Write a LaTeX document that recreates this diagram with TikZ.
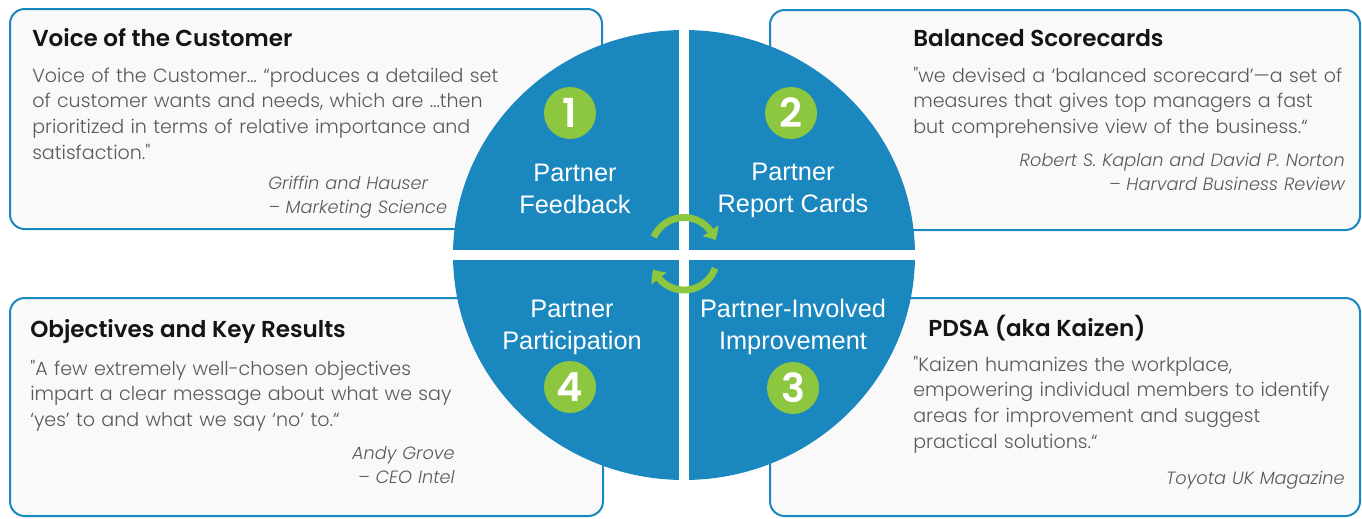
\documentclass[tikz,border=0pt]{standalone}
\usepackage{fontspec}
\usepackage{tikz}
\usetikzlibrary{arrows.meta, bending}
\newfontfamily\headfont{Poppins SemiBold}
\newfontfamily\quotefont{Poppins Light}[ItalicFont={Poppins Light Italic}]
\newfontfamily\stagefont{Liberation Sans}
\definecolor{ringblue}{HTML}{1A88BE}
\definecolor{leafgreen}{HTML}{8DC63F}
\definecolor{panelfill}{HTML}{F9F9F9}
\definecolor{titleink}{HTML}{141414}
\definecolor{quoteink}{HTML}{5A5A5A}

\begin{document}
\begin{tikzpicture}[x=0.75pt, y=-0.75pt,
        panel/.style={draw=ringblue, line width=1.5pt, fill=panelfill, rounded corners=11pt},
        headline/.style={anchor=base west, inner sep=0pt, text=titleink, font=\headfont\fontsize{17.3}{20}\selectfont},
        quote/.style={anchor=base west, inner sep=0pt, align=left, text width=380pt, text=quoteink, font=\quotefont\fontsize{14.3}{19.4}\selectfont},
        source/.style={anchor=base east, inner sep=0pt, align=right, text width=330pt, text=quoteink, font=\quotefont\itshape\fontsize{13.3}{18}\selectfont},
        stage/.style={align=center, inner sep=0pt, text=white, font=\stagefont\fontsize{19}{24}\selectfont},
        badge/.style={circle, fill=leafgreen, text=white, minimum size=39pt, inner sep=0pt, font=\headfont\fontsize{30}{30}\selectfont},
        roundtrip/.style={leafgreen, line width=5.2pt, ->, >={Triangle[width=14pt, length=8pt, bend]}}]
            \useasboundingbox (0,0) rectangle (1362,518);

            \draw[panel] (10,9) rectangle (602,229);
            \draw[panel] (770,10) rectangle (1360,230);
            \draw[panel] (10,298) rectangle (603,516);
            \draw[panel] (770,298) rectangle (1360,516);

            \fill[ringblue] (684,255) ellipse [x radius=231, y radius=225];
            \fill[white] (679,20) rectangle (689,490);
            \fill[white] (440,249.5) rectangle (930,260);

            \draw[roundtrip] (684,250.5) ++(204:33) arc[start angle=204, end angle=342, radius=33];
            \draw[roundtrip] (684,257) ++(20:33) arc[start angle=20, end angle=158, radius=33];

            \node[headline] (voc) at (32,46) {Voice of the Customer};
            \node[quote] (vocquote) at (32,82) {Voice of the Customer… “produces a detailed set\\ of customer wants and needs, which are …then\\ prioritized in terms of relative importance and\\ satisfaction."};
            \node[source, anchor=base west, align=left] (vocsource) at (268,189) {Griffin and Hauser\\ – Marketing Science};

            \node[headline] (bsc) at (913,46) {Balanced Scorecards};
            \node[quote] (bscquote) at (913,82) {"we devised a ‘balanced scorecard’—a set of\\ measures that gives top managers a fast\\ but comprehensive view of the business.“};
            \node[source] (bscsource) at (1345,166) {Robert S. Kaplan and David P. Norton\\ – Harvard Business Review};

            \node[headline] (okr) at (30,337) {Objectives and Key Results};
            \node[quote] (okrquote) at (30,375) {"A few extremely well-chosen objectives\\ impart a clear message about what we say\\ ‘yes’ to and what we say ‘no’ to.“};
            \node[source] (okrsource) at (455,459) {Andy Grove\\ – CEO Intel};

            \node[headline] (pdsa) at (928,336) {PDSA (aka Kaizen)};
            \node[quote] (pdsaquote) at (913,371) {"Kaizen humanizes the workplace,\\ empowering individual members to identify\\ areas for improvement and suggest\\ practical solutions.“};
            \node[source] (pdsasource) at (1345,484) {Toyota UK Magazine};

            \node[stage] (feedback) at (575,189) {Partner\\ Feedback};
            \node[stage] (reportcards) at (793,190) {Partner\\ Report Cards};
            \node[stage] (improvement) at (793,327) {Partner-Involved\\ Improvement};
            \node[stage] (participation) at (572,327) {Partner\\ Participation};

            \node[badge] (one) at (570,113) {1};
            \node[badge] (two) at (791,113) {2};
            \node[badge] (three) at (793,388) {3};
            \node[badge] (four) at (570,387) {4};
        \end{tikzpicture}
\end{document}
